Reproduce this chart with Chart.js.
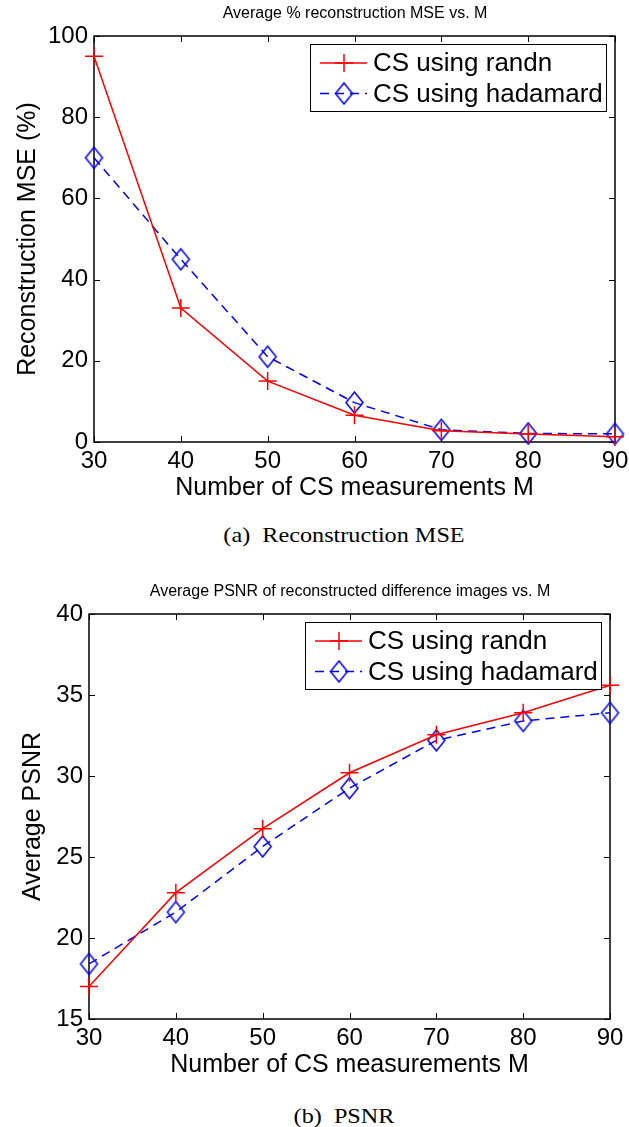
<!DOCTYPE html>
<html><head><meta charset="utf-8">
<script src="https://cdn.jsdelivr.net/npm/chart.js@4.4.1/dist/chart.umd.min.js"></script>
<style>
html,body{margin:0;padding:0;background:#fff;width:629px;height:1127px;overflow:hidden;}
canvas{position:absolute;left:0;}
.title{position:absolute;font-family:"Liberation Sans",Arial,sans-serif;font-size:16px;color:#000;white-space:nowrap;transform:translate(-50%,-50%);}
.caption{position:absolute;font-family:"Liberation Serif","Times New Roman",serif;font-size:22px;color:#000;white-space:nowrap;transform:translate(-50%,-50%) scaleX(1.1);}
</style></head><body>
<canvas id="c1" width="629" height="503" style="top:0px"></canvas>
<canvas id="c2" width="629" height="520" style="top:560px"></canvas>
<div class="title" style="left:355px;top:13px">Average % reconstruction MSE vs. M</div>
<div class="caption" style="left:344px;top:535px">(a)&nbsp; Reconstruction MSE</div>
<div class="title" style="left:350px;top:591px">Average PSNR of reconstructed difference images vs. M</div>
<div class="caption" style="left:344px;top:1116px">(b)&nbsp; PSNR</div>
<script>
// ---- data ----
const measurements = [30, 40, 50, 60, 70, 80, 90];
const seriesNames = ['CS using randn', 'CS using hadamard'];
const mseRandn    = [95, 33, 15, 6.6, 2.8, 2.0, 1.3];
const mseHadamard = [70, 45, 21, 9.7, 3.0, 2.1, 2.0];
const psnrRandn    = [17.0, 22.8, 26.75, 30.2, 32.55, 33.9, 35.6];
const psnrHadamard = [18.4, 21.6, 25.65, 29.25, 32.2, 33.4, 33.9];
const xTitle = 'Number of CS measurements M';
const mseYTitle = 'Reconstruction MSE (%)';
const psnrYTitle = 'Average PSNR';

const FONT = '"Liberation Sans", Arial, sans-serif';

function makeDiamond(color, hw, hh, lw) {
  const c = document.createElement('canvas');
  c.width = Math.ceil(2 * hw + 4); c.height = Math.ceil(2 * hh + 4);
  const g = c.getContext('2d');
  const cx = c.width / 2, cy = c.height / 2;
  g.strokeStyle = color; g.lineWidth = lw;
  g.beginPath();
  g.moveTo(cx, cy - hh); g.lineTo(cx + hw, cy); g.lineTo(cx, cy + hh); g.lineTo(cx - hw, cy); g.closePath();
  g.stroke();
  return c;
}
const diamond = makeDiamond('#0000ff', 8.5, 10.5, 1.5);

function pts(ys) { return measurements.map((m, i) => ({x: m, y: ys[i]})); }

const framePlugin = {
  id: 'frame',
  beforeDatasetsDraw(chart) {
    const {ctx, chartArea: a, scales: {x, y}} = chart;
    ctx.save();
    ctx.strokeStyle = '#000';
    ctx.lineWidth = 1.5;
    ctx.strokeRect(a.left, a.top, a.right - a.left, a.bottom - a.top);
    ctx.lineWidth = 1;
    const tl = 6;
    ctx.beginPath();
    x.ticks.forEach(t => {
      const px = Math.round(x.getPixelForValue(t.value)) + 0.5;
      ctx.moveTo(px, a.bottom); ctx.lineTo(px, a.bottom - tl);
      ctx.moveTo(px, a.top); ctx.lineTo(px, a.top + tl);
    });
    y.ticks.forEach(t => {
      const py = Math.round(y.getPixelForValue(t.value)) + 0.5;
      ctx.moveTo(a.left, py); ctx.lineTo(a.left + tl, py);
      ctx.moveTo(a.right, py); ctx.lineTo(a.right - tl, py);
    });
    ctx.stroke();
    ctx.restore();
  },
  afterDatasetsDraw(chart) {
    const {ctx, chartArea: a} = chart;
    const ds = chart.data.datasets;
    ctx.save();
    ctx.font = '26px ' + FONT;
    const tw = Math.max(...ds.map(d => ctx.measureText(d.label).width));
    const w = Math.round(63 + tw + 3), h = 67;
    const bx = Math.round(a.right - 9 - w), by = Math.round(a.top + 8);
    ctx.fillStyle = '#fff';
    ctx.fillRect(bx, by, w, h);
    ctx.strokeStyle = '#000'; ctx.lineWidth = 1;
    ctx.strokeRect(bx + 0.5, by + 0.5, w, h);
    ds.forEach((d, i) => {
      const cy = by + 19 + i * 30.5;
      ctx.strokeStyle = d.borderColor; ctx.lineWidth = d.borderWidth;
      ctx.setLineDash(d.borderDash || []);
      ctx.beginPath(); ctx.moveTo(bx + 10, cy); ctx.lineTo(bx + 57, cy); ctx.stroke();
      ctx.setLineDash([]);
      if (d.pointStyle instanceof HTMLCanvasElement) {
        ctx.drawImage(d.pointStyle, bx + 34 - d.pointStyle.width / 2, cy - d.pointStyle.height / 2);
      } else {
        const r = d.pointRadius;
        ctx.beginPath();
        ctx.moveTo(bx + 34 - r, cy); ctx.lineTo(bx + 34 + r, cy);
        ctx.moveTo(bx + 34, cy - r); ctx.lineTo(bx + 34, cy + r);
        ctx.stroke();
      }
      ctx.fillStyle = '#000'; ctx.textAlign = 'left'; ctx.textBaseline = 'middle';
      ctx.fillText(d.label, bx + 63, cy + 1);
    });
    ctx.restore();
  }
};

function makeChart(id, rY, hY, yMin, yMax, yStep, yTitle, opts) {
  return new Chart(document.getElementById(id), {
    type: 'line',
    data: {
      datasets: [
        { label: seriesNames[0], data: pts(rY), borderColor: '#ff0000', borderWidth: 1.5,
          pointStyle: 'cross', pointRadius: 9, pointBorderColor: '#ff0000', pointBorderWidth: 1.5,
          pointBackgroundColor: 'transparent', fill: false, tension: 0, clip: false },
        { label: seriesNames[1], data: pts(hY), borderColor: '#0000ff', borderWidth: 1.5, borderDash: [9, 6],
          pointStyle: diamond, pointRadius: 10, pointBorderColor: '#0000ff',
          pointBackgroundColor: 'transparent', fill: false, tension: 0, clip: false }
      ]
    },
    options: {
      responsive: false, animation: false,
      layout: { padding: { top: opts.top, right: opts.right, left: 0, bottom: 0 } },
      plugins: { legend: { display: false }, title: { display: false }, tooltip: { enabled: false } },
      scales: {
        x: {
          type: 'linear', min: 30, max: 90,
          afterFit: s => { s.height = opts.xh; s.paddingLeft = 0; s.paddingRight = 0; },
          grid: { display: true, drawOnChartArea: false, drawTicks: false },
          border: { display: false },
          ticks: { stepSize: 10, autoSkip: false, maxRotation: 0, padding: 5, color: '#000',
                   font: { family: FONT, size: 24, lineHeight: 1.2 } },
          title: { display: true, text: xTitle, color: '#000', padding: { top: 0, bottom: 0 },
                   font: { family: FONT, size: 25, lineHeight: 1.2 } }
        },
        y: {
          type: 'linear', min: yMin, max: yMax,
          afterFit: s => { s.width = opts.yw; s.paddingTop = 0; s.paddingBottom = 0; },
          grid: { display: true, drawOnChartArea: false, drawTicks: false },
          border: { display: false },
          ticks: { stepSize: yStep, autoSkip: false, padding: 6, color: '#000',
                   font: { family: FONT, size: 24, lineHeight: 1.2 } },
          title: { display: true, text: yTitle, color: '#000', padding: { top: opts.ytp, bottom: 0 },
                   font: { family: FONT, size: 25, lineHeight: 1.2 } }
        }
      }
    },
    plugins: [framePlugin]
  });
}

makeChart('c1', mseRandn, mseHadamard, 0, 100, 20, mseYTitle, { top: 36, right: 14, xh: 61, yw: 94, ytp: 13 });
makeChart('c2', psnrRandn, psnrHadamard, 15, 40, 5, psnrYTitle, { top: 54, right: 19, xh: 61, yw: 89, ytp: 18 });
</script>
</body></html>
